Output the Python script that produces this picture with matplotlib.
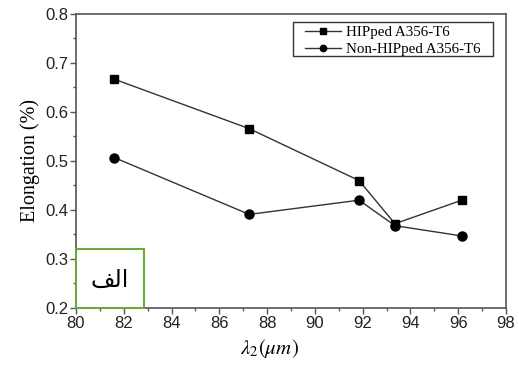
import matplotlib
matplotlib.use("Agg")
import matplotlib.pyplot as plt
from matplotlib.patches import Rectangle
from matplotlib.ticker import MultipleLocator, FormatStrFormatter

lam2 = [81.6, 87.25, 91.85, 93.35, 96.15]
hipped = [0.667, 0.566, 0.460, 0.372, 0.420]
non_hipped = [0.507, 0.391, 0.420, 0.368, 0.347]
series_labels = ["HIPped A356-T6", "Non-HIPped A356-T6"]
panel_label = "\uFED2\uFEDF\uFE8D"  # "الف" in visual (shaped) order

plt.rcParams["mathtext.fontset"] = "stix"

fig = plt.figure(figsize=(5.19, 3.67), dpi=100)
ax = fig.add_axes([0.1464, 0.1608, 0.8286, 0.8011])

lc = "#333333"
ax.plot(lam2, hipped, "-s", color=lc, lw=1.0, mfc="black", mec="black", ms=5.5,
        label=series_labels[0])
ax.plot(lam2, non_hipped, "-o", color=lc, lw=1.0, mfc="black", mec="black", ms=6.5,
        label=series_labels[1])

ax.set_xlim(80, 98)
ax.set_ylim(0.2, 0.8)
ax.xaxis.set_major_locator(MultipleLocator(2))
ax.xaxis.set_minor_locator(MultipleLocator(1))
ax.yaxis.set_major_locator(MultipleLocator(0.1))
ax.yaxis.set_minor_locator(MultipleLocator(0.05))
ax.yaxis.set_major_formatter(FormatStrFormatter("%.1f"))

for s in ax.spines.values():
    s.set_color("#555555")
    s.set_linewidth(1.2)
ax.tick_params(which="both", direction="out", top=False, right=False, color="#555555")
ax.tick_params(which="major", length=4, width=1.0, labelsize=12, pad=1.5)
ax.tick_params(which="minor", length=2.5, width=1.0)
for t in ax.get_xticklabels() + ax.get_yticklabels():
    t.set_family("Liberation Sans")
    t.set_color("#222222")

ax.set_ylabel("Elongation (%)", family="Liberation Serif", fontsize=14.5, labelpad=4)
ax.set_xlabel(r"$\lambda_2(\mu m)$", fontsize=15, labelpad=3)
ax.xaxis.set_label_coords(0.45, -0.1)

leg = ax.legend(loc="upper right", bbox_to_anchor=(0.94, 0.96),
                prop={"family": "Liberation Serif", "size": 10.8},
                frameon=False, handlelength=2.4, handletextpad=0.3,
                borderpad=0.0, labelspacing=0.22, markerscale=0.7,
                borderaxespad=0.0)
# legend frame box (wider left padding than matplotlib's uniform borderpad)
ax.add_patch(Rectangle((0.505, 0.856), 0.465, 0.117, transform=ax.transAxes,
                       fill=False, edgecolor="#333333", lw=1.0, zorder=4))

rect = Rectangle((80, 0.2), 2.85, 0.12, fill=True, facecolor="white",
                 edgecolor="#6aaa3a", lw=1.5, zorder=5, clip_on=False)
ax.add_patch(rect)
ax.text(81.4, 0.258, panel_label, ha="center", va="center", fontsize=17,
        family="DejaVu Sans", zorder=6)

fig.savefig("out.png", dpi=100)
